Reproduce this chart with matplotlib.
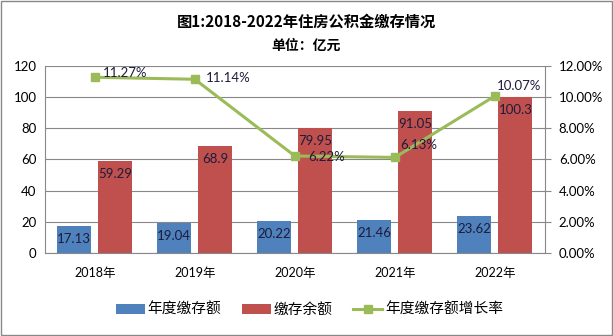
import matplotlib
matplotlib.use("Agg")
import matplotlib.pyplot as plt
import numpy as np

plt.rcParams['font.family'] = ['Lato', 'Noto Sans CJK SC', 'DejaVu Sans']

years = ['2018年', '2019年', '2020年', '2021年', '2022年']
annual = [17.13, 19.04, 20.22, 21.46, 23.62]
balance = [59.29, 68.9, 79.95, 91.05, 100.3]
growth = [11.27, 11.14, 6.22, 6.13, 10.07]
growth_labels = ['11.27%', '11.14%', '6.22%', '6.13%', '10.07%']

blue = '#4F81BD'
red = '#C0504D'
green = '#9BBB59'
lblc = '#1c1c3c'

fig = plt.figure(figsize=(6.13, 3.36), dpi=100)
fig.patches.append(plt.Rectangle((0.002, 0.003), 0.996, 0.994, transform=fig.transFigure,
                                 fill=False, edgecolor='#888888', linewidth=1))
ax = fig.add_axes([0.073, 0.247, 0.816, 0.557])
x = np.arange(len(years))
w = 0.34
b1 = ax.bar(x - 0.205, annual, w, color=blue, zorder=2)
b2 = ax.bar(x + 0.205, balance, w, color=red, zorder=2)
ax.set_ylim(0, 120)
ax.set_yticks(range(0, 121, 20))
ax.set_xlim(-0.5, 4.5)
ax.set_xticks(x)
ax.set_xticklabels(years, fontsize=9)
ax.yaxis.grid(True, color='#888888', linewidth=0.8, zorder=0)
ax.tick_params(axis='y', length=0, labelsize=9.5, pad=6)
ax.tick_params(axis='x', length=0, labelsize=9, pad=10)
for s in ['top', 'right']:
    ax.spines[s].set_visible(False)
ax.spines['left'].set_color('#888888')
ax.spines['bottom'].set_color('#888888')

for xi, v in zip(x, annual):
    ax.annotate(f'{v:g}', (xi - 0.205, v), xytext=(0, -13), textcoords='offset pixels',
                ha='center', va='center', fontsize=9.5, color=lblc, zorder=5)
for xi, v in zip(x, balance):
    ax.annotate(f'{v:g}', (xi + 0.205, v), xytext=(0, -13), textcoords='offset pixels',
                ha='center', va='center', fontsize=9.5, color=lblc, zorder=5)

ax2 = ax.twinx()
ax2.set_ylim(0, 12)
ax2.set_yticks(range(0, 13, 2))
ax2.set_yticklabels([f'{t:.2f}%' for t in range(0, 13, 2)])
ax2.tick_params(axis='y', direction='out', length=4, color='#888888', labelsize=9.5, pad=6)
for s in ['top', 'left', 'bottom']:
    ax2.spines[s].set_visible(False)
ax2.spines['right'].set_color('#888888')
ln, = ax2.plot(x, growth, color=green, linewidth=2.2, marker='s', markersize=6, zorder=4)
label_offsets = [(8, 4), (11, 1), (13, -1), (5, 12), (2, 10)]
for xi, v, t, off in zip(x, growth, growth_labels, label_offsets):
    ax2.annotate(t, (xi, v), xytext=off, textcoords='offset pixels',
                 ha='left', va='center', fontsize=9.5, color=lblc, zorder=5)

fig.text(0.5, 0.935, '图1:2018-2022年住房公积金缴存情况', ha='center', va='center',
         fontsize=11, fontweight='bold', family=['Noto Sans CJK SC'])
fig.text(0.5, 0.865, '单位：亿元', ha='center', va='center', fontsize=10, fontweight='bold',
         family=['Noto Sans CJK SC'])

leg = fig.legend([b1, b2, ln], ['年度缴存额', '缴存余额', '年度缴存额增长率'],
                 loc='center', bbox_to_anchor=(0.505, 0.077), ncol=3, frameon=False,
                 handlelength=1.95, columnspacing=1.4, handletextpad=0.2, handleheight=0.6,
                 prop={'family': ['Noto Sans CJK SC'], 'size': 10.6})
fig.savefig('out.png', dpi=100)
